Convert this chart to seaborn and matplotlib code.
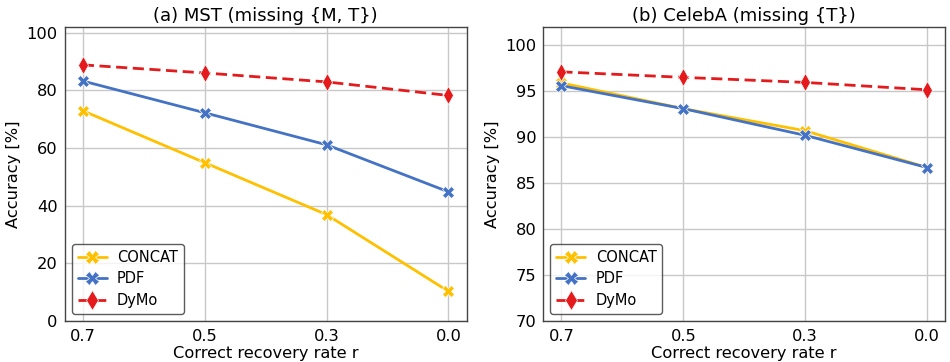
import pandas as pd
import seaborn as sns
import matplotlib.pyplot as plt

# Datos
rates = ["0.7", "0.5", "0.3", "0.0"]

mst_concat = [72.9, 54.9, 36.9, 10.3]
mst_pdf = [83.2, 72.2, 61.1, 44.8]
mst_dymo = [88.8, 86.0, 82.9, 78.2]

celeba_concat = [95.9, 93.1, 90.7, 86.7]
celeba_pdf = [95.6, 93.1, 90.2, 86.7]
celeba_dymo = [97.1, 96.5, 95.95, 95.15]

methods = ["CONCAT", "PDF", "DyMo"]
colors = {"CONCAT": "#FFC000", "PDF": "#4472C4", "DyMo": "#E41A1C"}
markers = {"CONCAT": "X", "PDF": "X", "DyMo": "d"}
dashes = {"CONCAT": "", "PDF": "", "DyMo": (4, 2)}

sns.set_theme(style="whitegrid")
plt.rcParams["axes.edgecolor"] = "#444444"
plt.rcParams["grid.color"] = "#c8c8c8"
plt.rcParams["text.color"] = "black"
plt.rcParams["axes.labelcolor"] = "black"
plt.rcParams["xtick.color"] = "black"
plt.rcParams["ytick.color"] = "black"
plt.rcParams["font.family"] = ["DejaVu Sans"]


def make_df(concat, pdf, dymo):
    rows = []
    for name, vals in zip(methods, [concat, pdf, dymo]):
        for r, v in zip(rates, vals):
            rows.append({"rate": r, "acc": v, "method": name})
    return pd.DataFrame(rows)


df_mst = make_df(mst_concat, mst_pdf, mst_dymo)
df_celeba = make_df(celeba_concat, celeba_pdf, celeba_dymo)

fig, axes = plt.subplots(1, 2, figsize=(9.5, 3.62), dpi=100)
fig.subplots_adjust(left=0.068, right=0.995, top=0.926, bottom=0.113, wspace=0.19)

panels = [
    (axes[0], df_mst, "(a) MST (missing {M, T})", (0, 102), [0, 20, 40, 60, 80, 100]),
    (axes[1], df_celeba, "(b) CelebA (missing {T})", (70, 102), [70, 75, 80, 85, 90, 95, 100]),
]

for ax, df, title, ylim, yticks in panels:
    sns.lineplot(data=df, x="rate", y="acc", hue="method", style="method",
                 palette=colors, markers=markers, dashes=dashes,
                 linewidth=2, markersize=9, markeredgewidth=0.5,
                 sort=False, ax=ax)
    ax.set_xlim(-0.15, 3.15)
    ax.set_ylim(*ylim)
    ax.set_yticks(yticks)
    ax.set_title(title, fontsize=13, pad=4)
    ax.set_xlabel("Correct recovery rate r", fontsize=11.7, labelpad=1)
    ax.set_ylabel("Accuracy [%]", fontsize=11.7, labelpad=4)
    ax.tick_params(axis="x", labelsize=11.7, length=0, pad=6)
    ax.tick_params(axis="y", labelsize=11.7, length=0, pad=5)
    for sp in ax.spines.values():
        sp.set_linewidth(1.0)
    leg = ax.legend(loc="lower left", fontsize=10.5, frameon=True,
                    handlelength=2.0, handletextpad=0.7, labelspacing=0.45,
                    markerscale=1.1)
    leg.get_frame().set_edgecolor("#333333")
    leg.get_frame().set_linewidth(1.0)

plt.savefig("out.png", dpi=100)
